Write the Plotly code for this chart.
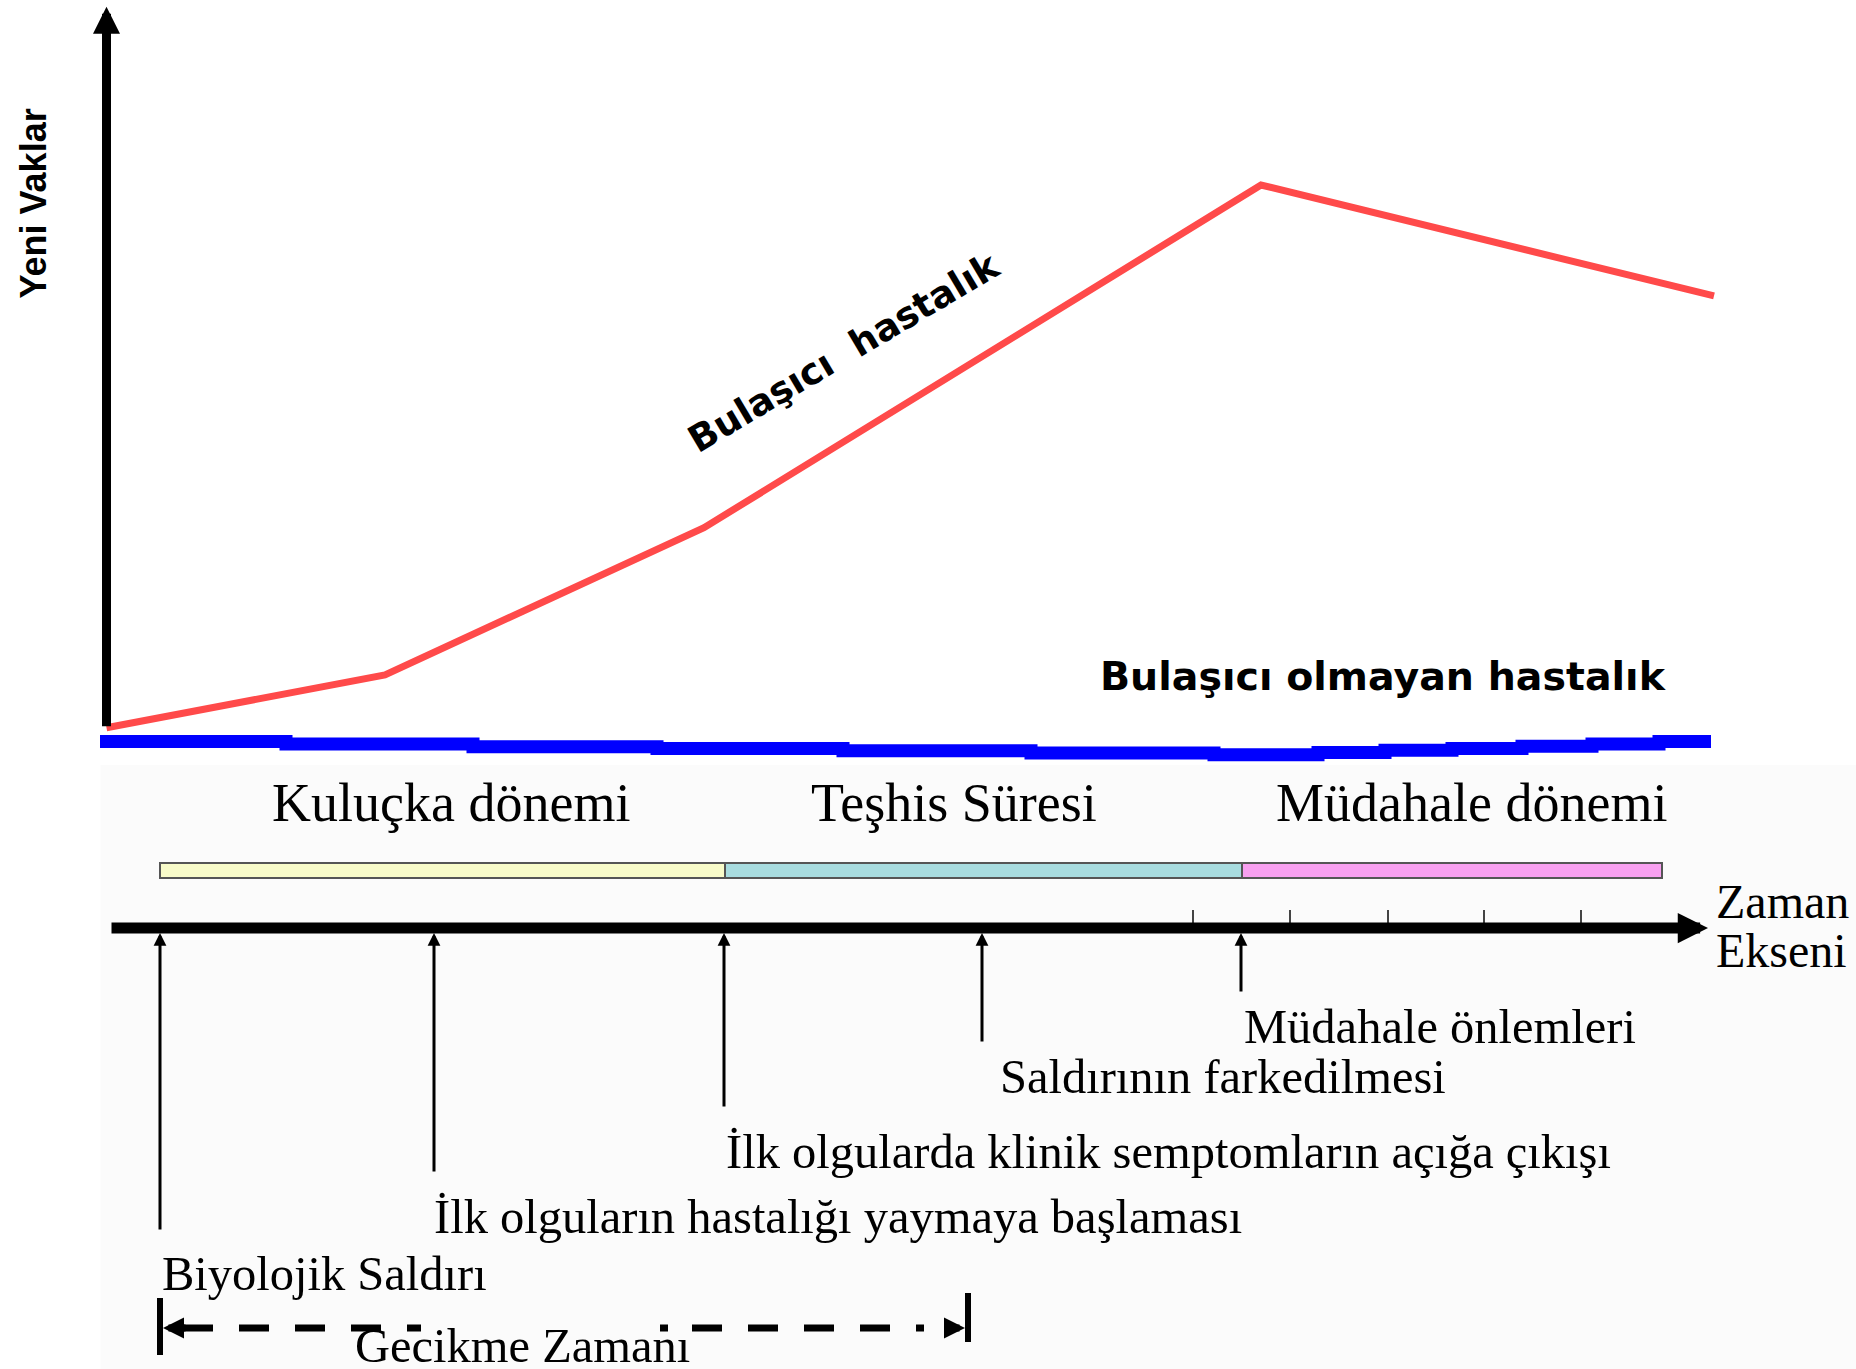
import plotly.graph_objects as go

# ---------------- data ----------------
# upper panel: new cases (arbitrary units) over time (arbitrary units)
curve_time = [-5.35, 22.5, 54.4, 110.1, 155.4]
infectious_cases = [5.6, 14.8, 40.4, 100.0, 80.7]

noninf_time = [-6.0, 12.6, 31.3, 49.7, 68.3, 87.1, 105.4, 115.8, 122.5, 129.2, 136.2, 143.2, 149.9, 155.1]
noninf_cases = [3.2, 2.8, 2.3, 2.0, 1.6, 1.2, 0.9, 1.3, 1.7, 2.0, 2.4, 2.8, 3.2]

curve_labels = ["Bulaşıcı\u00a0\u00a0hastalık", "Bulaşıcı olmayan hastalık"]
y_title = "Yeni Vaklar"

# lower panel: timeline
event_time = [0.0, 27.4, 56.4, 82.2, 108.1]
event_labels = [
    "Biyolojik Saldırı",
    "İlk olguların hastalığı yaymaya başlaması",
    "İlk olgularda klinik semptomların açığa çıkışı",
    "Saldırının farkedilmesi",
    "Müdahale önlemleri",
]
phase_edges = [0.0, 56.5, 108.2, 150.2]
phase_labels = ["Kuluçka dönemi", "Teşhis Süresi", "Müdahale dönemi"]
phase_label_time = [29.1, 79.4, 131.1]
tick_times = [103.3, 113.0, 122.8, 132.4, 142.1]
time_axis_span = [-5.0, 154.8]
delay_span = [0.3, 80.5]
delay_label = "Gecikme Zamanı"
axis_label = ["Zaman", "Ekseni"]
y_axis_top = 131.0

# ---------------- layout constants ----------------
W, H = 1856, 1369
T0_PX, PX_PER_T = 160.0, 10.0
C0_PX, PX_PER_C = 760.0, 5.75
AXIS_PX = 928.0
x_range = [(0 - T0_PX) / PX_PER_T, (W - T0_PX) / PX_PER_T]
y_range = [(C0_PX - H) / PX_PER_C, C0_PX / PX_PER_C]
y2_range = [AXIS_PX - H, AXIS_PX]

def tx(px):  # pixel offset -> time units
    return px / PX_PER_T

SERIF = "Liberation Serif, Times New Roman, serif"
SANS = "Liberation Sans, Arial, sans-serif"
WIDE_SANS = "DejaVu Sans, Verdana, sans-serif"
phase_colors = ["#f8fbc9", "#a8dcdf", "#f8a0f0"]

fig = go.Figure()

# background of the timeline panel
shapes = [dict(type="rect", xref="x", yref="y2", x0=curve_time[0] - tx(6), x1=x_range[1],
               y0=y2_range[0], y1=AXIS_PX - 765, fillcolor="#fbfbfb", line=dict(width=0), layer="below")]

# non-infectious (blue, stepped)
fig.add_trace(go.Scatter(x=noninf_time, y=noninf_cases + [noninf_cases[-1]], mode="lines",
                         line=dict(color="#0000ff", width=13, shape="hv"), hoverinfo="skip"))
# infectious (red)
fig.add_trace(go.Scatter(x=curve_time, y=infectious_cases, mode="lines",
                         line=dict(color="#ff4a4a", width=7), hoverinfo="skip"))

# phase bar
for i, col in enumerate(phase_colors):
    shapes.append(dict(type="rect", xref="x", yref="y2", x0=phase_edges[i], x1=phase_edges[i + 1],
                       y0=50, y1=65, fillcolor=col, line=dict(color="#555555", width=2)))

# tick marks on time axis
tx_, ty_ = [], []
for t in tick_times:
    tx_ += [t, t, None]
    ty_ += [5, 18, None]
fig.add_trace(go.Scatter(x=tx_, y=ty_, yaxis="y2", mode="lines",
                         line=dict(color="#444444", width=2), hoverinfo="skip"))

# delay bracket end bars
fig.add_trace(go.Scatter(x=[delay_span[0] - tx(3), delay_span[0] - tx(3), None, delay_span[1] + tx(3), delay_span[1] + tx(3)],
                         y=[-370, -427, None, -365, -414], yaxis="y2", mode="lines",
                         line=dict(color="black", width=6), hoverinfo="skip"))
# dashed delay line (two parts around the label)
fig.add_trace(go.Scatter(x=[delay_span[0] + tx(20), delay_span[0] + tx(258)], y=[-400, -400], yaxis="y2",
                         mode="lines", line=dict(color="black", width=7, dash="30px,26px"), hoverinfo="skip"))
fig.add_trace(go.Scatter(x=[delay_span[0] + tx(497), delay_span[1] - tx(18)], y=[-400, -400], yaxis="y2",
                         mode="lines", line=dict(color="black", width=7, dash="8px,24px,30px,26px,30px,26px,30px,26px,30px,26px"),
                         hoverinfo="skip"))

ann = []
# y axis arrow
ann.append(dict(x=curve_time[0], y=y_axis_top, ax=curve_time[0], ay=infectious_cases[0], xref="x", yref="y",
                axref="x", ayref="y", text="", showarrow=True, arrowhead=2, arrowsize=0.6, arrowwidth=9,
                arrowcolor="black"))
# time axis arrow
ann.append(dict(x=time_axis_span[1], y=0, ax=time_axis_span[0], ay=0, xref="x", yref="y2",
                axref="x", ayref="y2", text="", showarrow=True, arrowhead=2, arrowsize=0.55, arrowwidth=11,
                arrowcolor="black"))
# event arrows
stem = [303, 245, 180, 115, 65]
label_gap = [42.5, 43, 43, 33, 33]
label_dx = [0, -2, 0, 16, 1]
for t, lab, s, g, dx in zip(event_time, event_labels, stem, label_gap, label_dx):
    ann.append(dict(x=t, y=-5, ax=t, ay=-s, xref="x", yref="y2", axref="x", ayref="y2", text="",
                    showarrow=True, arrowhead=2, arrowsize=0.85, arrowwidth=3, arrowcolor="black"))
    ann.append(dict(x=t + tx(dx), y=-s - g, xref="x", yref="y2", text=lab, showarrow=False,
                    xanchor="left", yanchor="middle", font=dict(family=SERIF, size=48.5, color="black")))
# delay arrowheads
ann.append(dict(x=delay_span[0], y=-400, ax=delay_span[0] + tx(24), ay=-400, xref="x", yref="y2",
                axref="x", ayref="y2", text="", showarrow=True, arrowhead=2, arrowsize=0.6, arrowwidth=7,
                arrowcolor="black"))
ann.append(dict(x=delay_span[1], y=-400, ax=delay_span[1] - tx(22), ay=-400, xref="x", yref="y2",
                axref="x", ayref="y2", text="", showarrow=True, arrowhead=2, arrowsize=0.6, arrowwidth=7,
                arrowcolor="black"))
ann.append(dict(x=(delay_span[0] + delay_span[1]) / 2 - tx(42), y=-417, xref="x", yref="y2", text=delay_label,
                showarrow=False, xanchor="center", yanchor="middle",
                font=dict(family=SERIF, size=48.5, color="black")))
# phase labels
for lab, cx in zip(phase_labels, phase_label_time):
    ann.append(dict(x=cx, y=125, xref="x", yref="y2", text=lab, showarrow=False, xanchor="center",
                    yanchor="middle", font=dict(family=SERIF, size=54, color="black")))
# time axis label
for lab, yy in zip(axis_label, [26.5, -22]):
    ann.append(dict(x=time_axis_span[1] + tx(6), y=yy, xref="x", yref="y2", text=lab, showarrow=False,
                    xanchor="left", yanchor="middle", font=dict(family=SERIF, size=48, color="black")))
# curve labels
ann.append(dict(x=68.4, y=70.8, xref="x", yref="y", text="<b>" + curve_labels[0] + "</b>", showarrow=False,
                textangle=-30.7, xanchor="center", yanchor="middle",
                font=dict(family=WIDE_SANS, size=37, color="black")))
ann.append(dict(x=122.3, y=14.6, xref="x", yref="y", text="<b>" + curve_labels[1] + "</b>", showarrow=False,
                xanchor="center", yanchor="middle", font=dict(family=WIDE_SANS, size=39.5, color="black")))
ann.append(dict(x=-12.65, y=96.7, xref="x", yref="y", text="<b>" + y_title + "</b>", showarrow=False,
                textangle=-90, xanchor="center", yanchor="middle",
                font=dict(family=SANS, size=36, color="black")))

fig.update_layout(
    width=W, height=H, autosize=False, margin=dict(l=0, r=0, t=0, b=0, pad=0),
    paper_bgcolor="white", plot_bgcolor="white", showlegend=False,
    xaxis=dict(range=x_range, visible=False, fixedrange=True, domain=[0, 1]),
    yaxis=dict(range=y_range, visible=False, fixedrange=True, domain=[0, 1]),
    yaxis2=dict(range=y2_range, visible=False, fixedrange=True, overlaying="y", domain=[0, 1]),
    shapes=shapes, annotations=ann,
)
fig.write_html("out.html", config={"displayModeBar": False},
               post_script="document.body.style.margin='0';document.body.style.overflow='hidden';")
